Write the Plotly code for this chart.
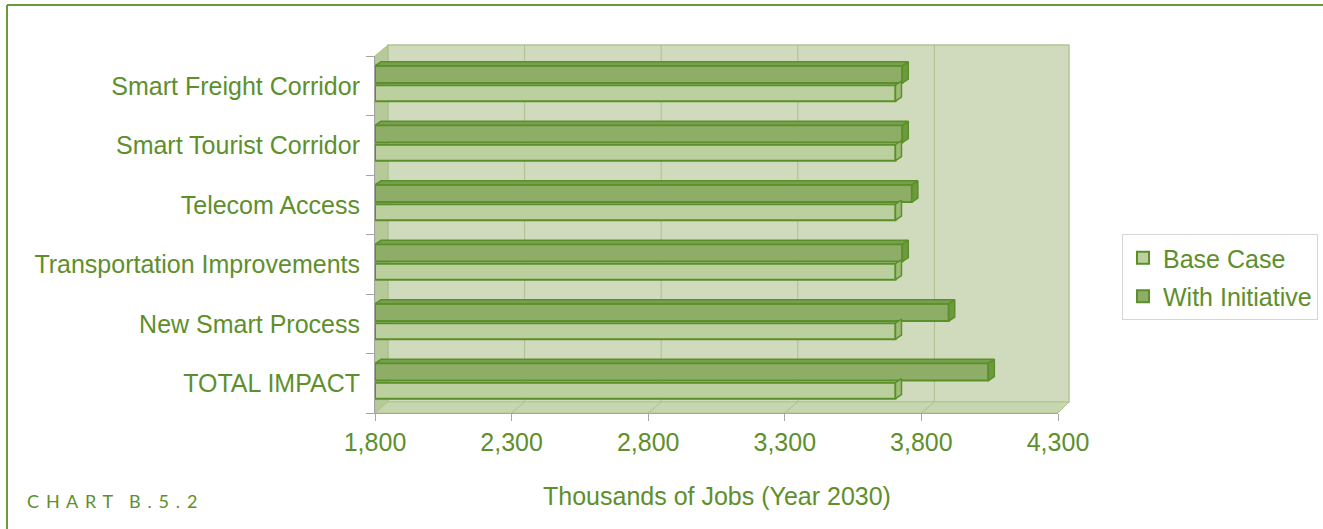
import plotly.graph_objects as go

# ---- data -------------------------------------------------------------
categories = [
    "Smart Freight Corridor",
    "Smart Tourist Corridor",
    "Telecom Access",
    "Transportation Improvements",
    "New Smart Process",
    "TOTAL IMPACT",
]
base_case = [3705, 3705, 3705, 3705, 3705, 3705]
with_initiative = [3730, 3730, 3765, 3730, 3900, 4045]
x_tickvals = [1800, 2300, 2800, 3300, 3800, 4300]
x_ticktext = ["1,800", "2,300", "2,800", "3,300", "3,800", "4,300"]

# ---- page geometry ----------------------------------------------------
W, H = 1323, 529
ML, MR, MT, MB = 375, 265, 56, 116
PW, PH = W - ML - MR, H - MT - MB
X_MIN, X_MAX = x_tickvals[0], x_tickvals[-1]
DX, DY = 13, 11            # depth of the 3-D walls, px

GREEN = "#5e8f2c"
EDGE = "#5b8f2a"
FONT = "Liberation Sans, Arial, sans-serif"
TXT = 25


def px(x):
    """page pixel x -> paper"""
    return (x - ML) / PW


def py(y):
    """page pixel y (from top) -> paper"""
    return (H - MB - y) / PH


n = len(categories)
ypos = [n - 1 - i for i in range(n)]          # first category on top

# bar slots inside each category (units of one category)
BASE_OFF, BASE_W = -0.26, 0.27
WITH_OFF, WITH_W = 0.045, 0.29
# extrusion of each bar (data units)
EX = 6 * (X_MAX - X_MIN) / PW
EY = 4 / (PH / n)

fig = go.Figure()


def bar(values, name, off, width, fill):
    fig.add_trace(go.Bar(
        orientation="h", name=name, legendgroup=name,
        y=ypos, x=[v - X_MIN for v in values], base=X_MIN,
        offset=off, width=width,
        marker=dict(color=fill, line=dict(color=EDGE, width=2)),
        hovertemplate="%{y}: %{customdata:,}<extra>" + name + "</extra>",
        customdata=values,
    ))


def faces(values, off, width, top_col, side_col, show_top=True):
    tx, ty, sx, sy = [], [], [], []
    for yc, v in zip(ypos, values):
        y0, y1 = yc + off, yc + off + width
        tx += [X_MIN, X_MIN + EX, v + EX, v, X_MIN, None]
        ty += [y1, y1 + EY, y1 + EY, y1, y1, None]
        sx += [v, v + EX, v + EX, v, v, None]
        sy += [y0, y0 + EY, y1 + EY, y1, y0, None]
    parts = [(sx, sy, side_col)]
    if show_top:
        parts.insert(0, (tx, ty, top_col))
    for xs, ys, col in parts:
        fig.add_trace(go.Scatter(
            x=xs, y=ys, mode="lines", fill="toself", fillcolor=col,
            line=dict(color=EDGE, width=1.5), showlegend=False,
            hoverinfo="skip", cliponaxis=False,
        ))


bar(base_case, "Base Case", BASE_OFF, BASE_W, "#bccf9f")
bar(with_initiative, "With Initiative", WITH_OFF, WITH_W, "#8eae68")
faces(base_case, BASE_OFF, BASE_W, "#a6c280", "#9dbc76", show_top=False)
faces(with_initiative, WITH_OFF, WITH_W, "#77a04c", "#6c9a3c")

# ---- 3-D walls --------------------------------------------------------
shapes = []
shapes.append(dict(type="rect", xref="paper", yref="paper", layer="below",
                   x0=px(ML + DX), x1=px(ML + PW + DX - 2),
                   y0=py(H - MB - DY), y1=py(MT - DY),
                   fillcolor="#cfdbbc", line=dict(color="#b2c595", width=1.5)))
shapes.append(dict(type="path", xref="paper", yref="paper", layer="below",
                   path=(f"M{px(ML)},{py(MT)} L{px(ML + DX)},{py(MT - DY)} "
                         f"L{px(ML + DX)},{py(H - MB - DY)} L{px(ML)},{py(H - MB)} Z"),
                   fillcolor="#b6ca99", line=dict(color="#a9bf8b", width=1)))
shapes.append(dict(type="path", xref="paper", yref="paper", layer="below",
                   path=(f"M{px(ML)},{py(H - MB)} L{px(ML + DX)},{py(H - MB - DY)} "
                         f"L{px(ML + PW + DX - 2)},{py(H - MB - DY)} L{px(ML + PW)},{py(H - MB)} Z"),
                   fillcolor="#c6d6ae", line=dict(color="#b2c595", width=1)))
for v in x_tickvals[1:-1]:
    # gridline on the back wall
    shapes.append(dict(type="line", xref="x", yref="paper", layer="below",
                       xsizemode="pixel", xanchor=v, x0=DX, x1=DX,
                       y0=py(H - MB - DY), y1=py(MT - DY),
                       line=dict(color="#adbf92", width=1)))
    # its run across the floor
    shapes.append(dict(type="line", xref="x", yref="paper", layer="below",
                       xsizemode="pixel", xanchor=v, x0=0, x1=DX,
                       y0=0, y1=py(H - MB - DY),
                       line=dict(color="#adbf92", width=1)))

# page frame (top and left rules)
shapes.append(dict(type="line", xref="paper", yref="paper",
                   x0=px(7), x1=px(W + 5), y0=py(5), y1=py(5),
                   line=dict(color="#6a9b3a", width=2)))
shapes.append(dict(type="line", xref="paper", yref="paper",
                   x0=px(7), x1=px(7), y0=py(5), y1=py(H + 5),
                   line=dict(color="#6a9b3a", width=2)))

gap = "\u2009 "
annotations = [
    dict(text="Thousands of Jobs (Year 2030)", xref="paper", yref="paper",
         x=0.5, y=py(496), xanchor="center", yanchor="middle", showarrow=False,
         font=dict(family=FONT, size=TXT, color=GREEN)),
    dict(text=gap.join("CHART") + "\u2003\u2009" + gap.join("B.5.2"),
         xref="paper", yref="paper", x=px(25), y=py(501),
         xanchor="left", yanchor="middle", showarrow=False,
         font=dict(family="Lato, sans-serif", size=18, color=GREEN)),
]

fig.update_layout(
    width=W, height=H,
    margin=dict(l=ML, r=MR, t=MT, b=MB, autoexpand=False),
    paper_bgcolor="white", plot_bgcolor="rgba(0,0,0,0)",
    barmode="overlay",
    font=dict(family=FONT, color=GREEN, size=TXT),
    shapes=shapes, annotations=annotations,
    showlegend=True,
    legend=dict(x=px(1122), y=py(277), xanchor="left", yanchor="middle",
                traceorder="grouped", tracegroupgap=3, bgcolor="white",
                bordercolor="#d6d6d6", borderwidth=1,
                font=dict(family=FONT, size=TXT, color=GREEN)),
    xaxis=dict(range=[X_MIN, X_MAX], tickvals=x_tickvals, ticktext=x_ticktext,
               ticks="outside", ticklen=7, tickcolor="#a5a5a5",
               showline=True, linecolor="#a5a5a5", linewidth=1,
               showgrid=False, zeroline=False, ticklabelstandoff=0,
               tickfont=dict(size=TXT, color=GREEN)),
    yaxis=dict(range=[-0.5, n - 0.5], tickvals=ypos, ticktext=categories,
               ticks="", showline=True, linecolor="#a5a5a5", linewidth=1,
               showgrid=False, zeroline=False, ticklabelstandoff=9,
               tickfont=dict(size=TXT, color=GREEN),
               minor=dict(tickmode="array", tickvals=[k - 0.5 for k in range(n + 1)],
                          ticks="outside", ticklen=8, tickcolor="#a5a5a5",
                          showgrid=False)),
)

fig.write_html("out.html")
